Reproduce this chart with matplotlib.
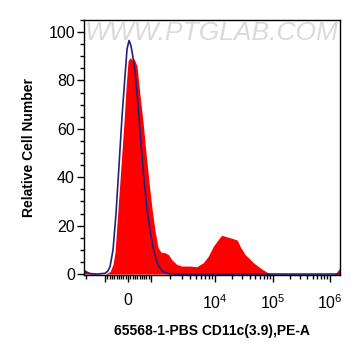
import numpy as np
import matplotlib
matplotlib.use("Agg")
import matplotlib.pyplot as plt
from matplotlib.ticker import FixedLocator, MultipleLocator

plt.rcParams['font.family'] = ['Liberation Sans', 'DejaVu Sans']
plt.rcParams['mathtext.fontset'] = 'custom'
plt.rcParams['mathtext.rm'] = 'Liberation Sans'

# red sample histogram (fluorescence value, relative count)
red_x = [-2130, -1716, -1350, -1000, -783, -652, -565, -435, -304, -174, -87, 0, 87,
         174, 261, 391, 522, 652, 783, 913, 1037, 1155, 1286, 1433, 1654, 1865, 2102,
         2516, 3013, 4064, 5166, 6572, 7867, 9418, 11430, 13060, 15960, 20840,
         24430, 27230, 33270, 46450, 60670, 79250, 96830, 300600, 1222000, 1490000]
red_y = [2, 0.5, 0, 0, 1, 4, 9, 27, 45, 63, 77, 88, 89.5,
         88.5, 89, 86, 74, 63, 50, 38, 27, 18, 11, 9, 8.8, 8.1, 6,
         4, 3.3, 3.3, 3, 4.7, 7.4, 11.5, 14.3, 16, 15.4, 14.6,
         14, 11.5, 8.1, 4.7, 2.6, 0.8, 0.1, 0, 0, 2.6]

# blue control histogram
blue_x = [-2130, -1716, -1350, -1000, -880, -783, -652, -522, -391, -261, -130, -43, 43, 109,
          174, 304, 435, 565, 696, 826, 957, 1075, 1197, 1333, 1540, 1844, 2400, 1490000]
blue_y = [1, 0.2, 0, 0.3, 1.2, 3, 10, 25, 45, 65, 82, 93, 96.5, 95,
          92, 84, 70, 54, 39, 27, 18, 11, 6, 3, 1, 0.2, 0, 0]

y_major = [0, 20, 40, 60, 80, 100]
x_major = [-1000, 0, 1000, 10000, 100000, 1000000]
x_labels = ['', '0', '', r'$\mathregular{10^4}$', r'$\mathregular{10^5}$', r'$\mathregular{10^6}$']


# biexponential-like axis (units: decades)
def fwd(x):
    x = np.asarray(x, dtype=float)
    a = np.maximum(np.abs(x), 1e-9)
    d = np.where(a <= 1e3, 0.4 * a / 1e3,
                 np.where(a <= 1e4, 0.4 + 1.113 * np.log10(a / 1e3),
                          1.513 + np.log10(a / 1e4)))
    return np.sign(x) * d


def inv(d):
    d = np.asarray(d, dtype=float)
    a = np.abs(d)
    x = np.where(a <= 0.4, a / 0.4 * 1e3,
                 np.where(a <= 1.513, 1e3 * 10 ** ((a - 0.4) / 1.113),
                          1e4 * 10 ** (a - 1.513)))
    return np.sign(d) * x


fig = plt.figure(figsize=(3.61, 3.56), dpi=100)
ax = fig.add_axes([0.2327, 0.2275, 0.7091, 0.7163])
ax.set_xscale('function', functions=(fwd, inv))

ax.fill_between(red_x, red_y, 0, color='#ff0000', lw=0)
ax.plot(blue_x, blue_y, color='#22227a', lw=1.2)

ax.set_xlim(-2130, 1490000)
ax.set_ylim(-0.4, 105)

minor = [-2000] + [s * v for s in (-1, 1) for v in range(100, 1000, 100)]
minor += [m * 10 ** e for e in (3, 4, 5) for m in range(2, 10)]
ax.xaxis.set_major_locator(FixedLocator(x_major))
ax.xaxis.set_minor_locator(FixedLocator(minor))
ax.set_xticklabels(x_labels)
ax.yaxis.set_major_locator(FixedLocator(y_major))
ax.yaxis.set_minor_locator(MultipleLocator(5))

ax.tick_params(axis='both', which='major', direction='out', length=5, width=1,
               labelsize=11.5, colors='black')
ax.tick_params(axis='both', which='minor', direction='out', length=3, width=1)
ax.tick_params(axis='x', which='major', pad=8)
ax.tick_params(axis='y', which='major', pad=1.5)
for s in ax.spines.values():
    s.set_linewidth(1)

ax.set_ylabel('Relative Cell Number', fontsize=10, fontweight='bold', labelpad=9)
ax.set_xlabel('65568-1-PBS CD11c(3.9),PE-A', fontsize=10, fontweight='bold', labelpad=9)

ax.text(0.498, 0.949, 'WWW.PTGLAB.COM', transform=ax.transAxes, ha='center', va='center',
        fontsize=19, color='#dadada', style='italic', zorder=5)

fig.savefig('out.png', dpi=100)
